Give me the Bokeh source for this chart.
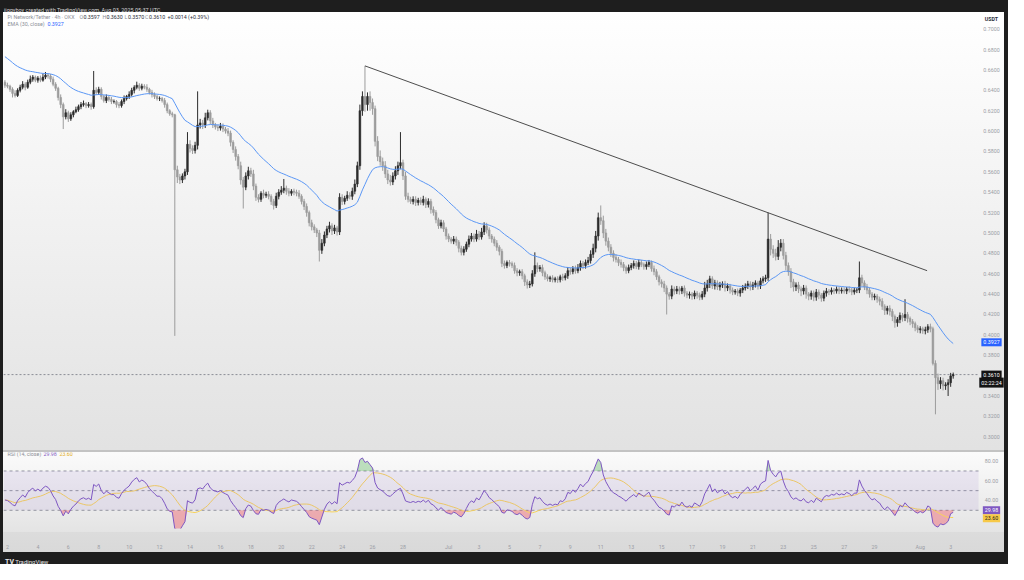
import numpy as np
from bokeh.plotting import figure
from bokeh.layouts import column
from bokeh.models import ColumnDataSource, Label, Div, FixedTicker, Range1d, BoxAnnotation
from bokeh.core.properties import value
from bokeh.embed import file_html
from bokeh.resources import INLINE

FONT = "Roboto"

# ---------------- data (PI/USDT, 4h candles, OKX) ----------------
# time in days since 2025-06-01 00:00 UTC; first candle Jun 1 20:00
first_time = 20 / 24
candle_days = 1 / 6
first_open = 0.648

close_rows = [
    [0.645],                                          # Jun 1 (20:00)
    [0.644, 0.641, 0.637, 0.635, 0.640, 0.643],       # Jun 2
    [0.646, 0.643, 0.648, 0.651, 0.653, 0.650],       # Jun 3
    [0.652, 0.650, 0.653, 0.655, 0.654, 0.651],       # Jun 4
    [0.646, 0.642, 0.633, 0.626, 0.614, 0.618],       # Jun 5
    [0.612, 0.616, 0.619, 0.621, 0.624, 0.626],       # Jun 6
    [0.627, 0.625, 0.626, 0.624, 0.640, 0.638],       # Jun 7
    [0.641, 0.634, 0.630, 0.633, 0.631, 0.629],       # Jun 8
    [0.629, 0.626, 0.625, 0.629, 0.632, 0.634],       # Jun 9
    [0.636, 0.640, 0.643, 0.645, 0.642, 0.644],       # Jun 10
    [0.643, 0.641, 0.638, 0.636, 0.634, 0.632],       # Jun 11
    [0.632, 0.630, 0.626, 0.620, 0.617, 0.616],       # Jun 12
    [0.562, 0.555, 0.552, 0.556, 0.560, 0.587],       # Jun 13
    [0.583, 0.581, 0.586, 0.606, 0.608, 0.606],       # Jun 14
    [0.613, 0.618, 0.610, 0.606, 0.604, 0.603],       # Jun 15
    [0.605, 0.602, 0.600, 0.598, 0.589, 0.582],       # Jun 16
    [0.575, 0.566, 0.552, 0.545, 0.556, 0.561],       # Jun 17
    [0.558, 0.546, 0.535, 0.533, 0.539, 0.537],       # Jun 18
    [0.538, 0.536, 0.531, 0.527, 0.536, 0.540],       # Jun 19
    [0.542, 0.544, 0.541, 0.539, 0.541, 0.540],       # Jun 20
    [0.539, 0.536, 0.531, 0.526, 0.520, 0.510],       # Jun 21
    [0.506, 0.503, 0.500, 0.483, 0.490, 0.498],       # Jun 22
    [0.504, 0.507, 0.502, 0.505, 0.501, 0.535],       # Jun 23
    [0.531, 0.534, 0.537, 0.536, 0.541, 0.548],       # Jun 24
    [0.566, 0.620, 0.634, 0.626, 0.634, 0.628],       # Jun 25
    [0.622, 0.590, 0.575, 0.570, 0.566, 0.558],       # Jun 26
    [0.552, 0.550, 0.556, 0.561, 0.566, 0.569],       # Jun 27
    [0.556, 0.536, 0.533, 0.531, 0.533, 0.530],       # Jun 28
    [0.532, 0.530, 0.533, 0.528, 0.531, 0.523],       # Jun 29
    [0.520, 0.513, 0.507, 0.510, 0.504, 0.497],       # Jun 30
    [0.494, 0.492, 0.494, 0.491, 0.485, 0.481],       # Jul 1
    [0.484, 0.489, 0.494, 0.497, 0.494, 0.499],       # Jul 2
    [0.496, 0.501, 0.507, 0.503, 0.497, 0.494],       # Jul 3
    [0.490, 0.486, 0.482, 0.470, 0.468, 0.471],       # Jul 4
    [0.470, 0.468, 0.463, 0.461, 0.462, 0.458],       # Jul 5
    [0.452, 0.449, 0.450, 0.460, 0.468, 0.465],       # Jul 6
    [0.466, 0.461, 0.457, 0.455, 0.456, 0.454],       # Jul 7
    [0.455, 0.454, 0.457, 0.456, 0.458, 0.463],       # Jul 8
    [0.462, 0.465, 0.463, 0.466, 0.470, 0.468],       # Jul 9
    [0.471, 0.473, 0.479, 0.485, 0.497, 0.515],       # Jul 10
    [0.512, 0.500, 0.492, 0.486, 0.480, 0.476],       # Jul 11
    [0.474, 0.471, 0.469, 0.466, 0.463, 0.466],       # Jul 12
    [0.468, 0.470, 0.467, 0.471, 0.469, 0.467],       # Jul 13
    [0.469, 0.471, 0.465, 0.462, 0.457, 0.452],       # Jul 14
    [0.450, 0.446, 0.440, 0.438, 0.445, 0.443],       # Jul 15
    [0.445, 0.443, 0.446, 0.441, 0.439, 0.440],       # Jul 16
    [0.438, 0.441, 0.439, 0.437, 0.440, 0.446],       # Jul 17
    [0.450, 0.455, 0.448, 0.451, 0.447, 0.449],       # Jul 18
    [0.450, 0.446, 0.448, 0.444, 0.442, 0.443],       # Jul 19
    [0.441, 0.444, 0.446, 0.448, 0.450, 0.447],       # Jul 20
    [0.449, 0.451, 0.448, 0.453, 0.455, 0.456],       # Jul 21
    [0.494, 0.484, 0.480, 0.477, 0.486, 0.490],       # Jul 22
    [0.478, 0.468, 0.462, 0.452, 0.447, 0.449],       # Jul 23
    [0.445, 0.443, 0.446, 0.440, 0.438, 0.441],       # Jul 24
    [0.437, 0.442, 0.439, 0.436, 0.441, 0.443],       # Jul 25
    [0.442, 0.444, 0.443, 0.445, 0.443, 0.444],       # Jul 26
    [0.443, 0.445, 0.444, 0.442, 0.444, 0.444],       # Jul 27
    [0.456, 0.451, 0.447, 0.444, 0.440, 0.437],       # Jul 28
    [0.438, 0.435, 0.433, 0.428, 0.424, 0.426],       # Jul 29
    [0.423, 0.418, 0.412, 0.415, 0.419, 0.417],       # Jul 30
    [0.420, 0.416, 0.413, 0.411, 0.407, 0.405],       # Jul 31
    [0.406, 0.404, 0.405, 0.408, 0.406, 0.372],       # Aug 1
    [0.358, 0.352, 0.355, 0.350, 0.351, 0.353],       # Aug 2
    [0.3597, 0.3610],                                 # Aug 3
]

# wick lengths beyond the body, in units of 0.0001
upper_wick_rows = [
    [20],
    [25, 15, 20, 30, 20, 25], [30, 20, 25, 35, 20, 15], [20, 25, 35, 30, 15, 20],
    [25, 20, 15, 30, 20, 35], [20, 25, 15, 30, 20, 25], [30, 15, 25, 20, 190, 30],
    [25, 20, 15, 30, 20, 25], [20, 15, 25, 20, 30, 15], [30, 25, 20, 35, 20, 25],
    [20, 30, 15, 25, 20, 15], [20, 15, 25, 20, 15, 20], [10, 40, 30, 25, 30, 120],
    [40, 30, 35, 330, 40, 30], [50, 30, 25, 30, 20, 25], [30, 25, 20, 30, 25, 20],
    [30, 25, 40, 30, 35, 40], [30, 40, 25, 30, 20, 35], [25, 30, 20, 25, 35, 30],
    [40, 90, 25, 30, 20, 25], [25, 30, 20, 25, 30, 20], [30, 25, 20, 30, 40, 35],
    [30, 40, 25, 30, 20, 40], [30, 25, 40, 30, 35, 45], [40, 60, 50, 300, 40, 50],
    [40, 30, 50, 60, 40, 45], [40, 50, 35, 45, 40, 300], [30, 40, 35, 25, 30, 30],
    [25, 30, 35, 20, 30, 25], [30, 25, 20, 30, 25, 20],
    [25, 20, 30, 25, 20, 25], [30, 25, 35, 30, 25, 40], [30, 40, 35, 30, 25, 20],
    [25, 30, 20, 25, 30, 20], [25, 20, 30, 25, 20, 25], [20, 25, 30, 35, 130, 30],
    [25, 30, 20, 25, 20, 25], [20, 25, 20, 30, 25, 35], [30, 25, 30, 35, 30, 25],
    [30, 35, 40, 45, 50, 50], [120, 50, 40, 35, 30, 30], [30, 25, 30, 25, 20, 30],
    [25, 30, 25, 30, 25, 20], [30, 25, 20, 30, 25, 20], [25, 30, 25, 20, 35, 25],
    [30, 25, 20, 25, 20, 25], [20, 25, 20, 25, 30, 60], [40, 30, 25, 30, 25, 30],
    [25, 30, 25, 20, 25, 20], [25, 20, 30, 25, 30, 25], [30, 25, 20, 30, 25, 30],
    [260, 50, 40, 45, 70, 40], [40, 35, 30, 35, 30, 25], [30, 25, 30, 25, 20, 25],
    [25, 30, 25, 20, 25, 30], [20, 25, 20, 25, 20, 25], [25, 20, 25, 20, 25, 20],
    [160, 30, 25, 30, 25, 20], [25, 20, 25, 30, 20, 25], [30, 25, 20, 25, 30, 25],
    [150, 25, 20, 25, 20, 25],
    [25, 20, 30, 25, 30, 20], [30, 40, 35, 30, 25, 35],
    [30, 20],
]
lower_wick_rows = [
    [25],
    [20, 25, 40, 20, 15, 20], [20, 30, 15, 20, 25, 20], [25, 20, 15, 20, 25, 30],
    [20, 25, 30, 35, 120, 25], [30, 20, 25, 15, 20, 25], [20, 25, 20, 30, 20, 25],
    [25, 30, 20, 25, 20, 25], [20, 30, 25, 20, 25, 20], [25, 20, 30, 20, 25, 20],
    [20, 25, 20, 30, 25, 20], [25, 20, 30, 25, 20, 25], [1630, 60, 40, 30, 35, 30],
    [40, 35, 30, 40, 35, 40], [30, 25, 35, 30, 25, 30], [25, 30, 25, 30, 40, 35],
    [40, 35, 45, 210, 30, 35], [30, 40, 35, 30, 25, 30], [25, 30, 35, 40, 25, 30],
    [25, 30, 35, 30, 25, 30], [30, 25, 30, 35, 40, 35], [35, 30, 40, 110, 35, 30],
    [30, 35, 40, 30, 35, 30], [35, 30, 25, 30, 35, 30], [30, 40, 50, 70, 60, 80],
    [60, 50, 45, 40, 50, 40], [40, 35, 30, 35, 40, 35], [40, 35, 30, 25, 30, 35],
    [30, 25, 30, 35, 30, 40], [30, 35, 30, 25, 30, 35],
    [30, 25, 30, 35, 40, 30], [30, 25, 30, 25, 30, 25], [30, 25, 30, 35, 30, 35],
    [30, 35, 40, 35, 30, 25], [30, 25, 30, 35, 30, 35], [40, 35, 30, 25, 30, 35],
    [30, 35, 30, 25, 30, 25], [25, 30, 25, 30, 25, 30], [30, 25, 30, 25, 30, 35],
    [30, 25, 30, 35, 40, 45], [40, 50, 45, 40, 35, 40], [30, 35, 30, 35, 30, 25],
    [25, 30, 25, 30, 25, 30], [30, 25, 30, 35, 30, 35], [35, 40, 200, 35, 30, 35],
    [30, 35, 30, 35, 30, 35], [35, 30, 35, 30, 25, 30], [35, 40, 30, 35, 30, 35],
    [30, 35, 30, 35, 30, 25], [30, 35, 30, 25, 30, 35], [30, 25, 35, 30, 25, 30],
    [30, 60, 45, 40, 35, 40], [40, 45, 40, 60, 45, 40], [40, 50, 35, 45, 40, 35],
    [40, 35, 40, 35, 30, 35], [30, 25, 30, 25, 30, 25], [25, 30, 25, 30, 25, 30],
    [30, 35, 30, 40, 35, 30], [30, 35, 40, 35, 45, 40], [40, 45, 50, 40, 35, 40],
    [35, 40, 35, 40, 35, 30],
    [35, 30, 35, 30, 35, 20], [360, 60, 50, 45, 40, 110],
    [40, 27],
]

ema_period = 30
ema_seed = 0.675
rsi_period = 14
rsi_ma_period = 14
rsi_seed_gain = 0.0022
rsi_seed_loss = 0.0030

# trend line (drawn by the author): from the Jun 25 high to Aug 1
trend_t = [24.5, 61.45]
trend_p = [0.664, 0.463]

price_ticks = [0.30, 0.32, 0.34, 0.36, 0.38, 0.40, 0.42, 0.44, 0.46, 0.48, 0.50,
               0.52, 0.54, 0.56, 0.58, 0.60, 0.62, 0.64, 0.66, 0.68, 0.70]
rsi_ticks = [20, 40, 60, 80]
rsi_levels = [70, 50, 30]
time_ticks = [1, 3, 5, 7, 9, 11, 13, 15, 17, 19, 21, 23, 25, 27,
              30, 32, 34, 36, 38, 40, 42, 44, 46, 48, 50, 52, 54, 56, 58, 61, 63]
time_labels = ["2", "4", "6", "8", "10", "12", "14", "16", "18", "20", "22", "24", "26", "28",
               "Jul", "3", "5", "7", "9", "11", "13", "15", "17", "19", "21", "23", "25", "27", "29",
               "Aug", "3"]

last_price = 0.3610
ema_last = 0.3927
rsi_last = 29.98
rsi_ma_last = 23.60

# ---------------- derived series ----------------
closes = np.array([c for r in close_rows for c in r])
uw = np.array([w for r in upper_wick_rows for w in r]) / 10000.0
lw = np.array([w for r in lower_wick_rows for w in r]) / 10000.0
n = len(closes)
opens = np.concatenate([[first_open], closes[:-1]])
times = first_time + np.arange(n) * candle_days
tops = np.maximum(opens, closes)
bots = np.minimum(opens, closes)
highs = tops + uw
lows = bots - lw
UP, DOWN = "#2c2c2c", "#9c9c9c"
colors = [UP if c >= o else DOWN for o, c in zip(opens, closes)]

alpha = 2.0 / (ema_period + 1)
ema = []
e = ema_seed
for c in closes:
    e = e + alpha * (c - e)
    ema.append(e)

ag, al = rsi_seed_gain, rsi_seed_loss
rsi = []
for o, c in zip(opens, closes):
    ch = c - o
    ag = (ag * (rsi_period - 1) + max(ch, 0)) / rsi_period
    al = (al * (rsi_period - 1) + max(-ch, 0)) / rsi_period
    rsi.append(100 - 100 / (1 + ag / al))
rsi = np.array(rsi)
rsi_ma = np.array([rsi[max(0, i - rsi_ma_period + 1):i + 1].mean() for i in range(n)])

# ---------------- layout constants ----------------
FIG_W = 1001          # frame spans the chart area and the price-scale strip
PANE_W = 975          # chart area width (px); the rest is the price scale
MAIN_H = 438
RSI_H = 102
X0, X1 = 0.74, 64.83  # time span of the chart area
XE = X0 + (X1 - X0) * FIG_W / PANE_W


def t_at(px):
    return X0 + (XE - X0) * px / FIG_W


X_SCALE = t_at(PANE_W + 13)   # centre of the price scale strip
X_EDGE = t_at(PANE_W)

AX_COL = "#9a9da5"
LEG_GREY = "#8b8e96"
FS = "5.3px"


def lab(fig, x, y, text, color, size=FS, bg=None, align="left", yunits="screen", yoff=0, bold=False):
    l = Label(x=x, y=y, x_units="screen", y_units=yunits, text=text, text_color=color,
              text_font=FONT, text_font_size=size, text_align=align, text_baseline="middle",
              y_offset=yoff, text_font_style="bold" if bold else "normal")
    if bg is not None:
        l.background_fill_color = bg
        l.padding = 2
    fig.add_layout(l)
    return l


# ---------------- main pane ----------------
main = figure(width=FIG_W, height=MAIN_H, x_range=Range1d(X0, XE), y_range=Range1d(0.2865, 0.7164),
              x_axis_location=None, y_axis_location=None, toolbar_location=None,
              output_backend="svg", min_border_left=0, min_border_right=0,
              min_border_top=0, min_border_bottom=0, background_fill_color=None,
              border_fill_color=None, outline_line_color=None, margin=(0, 4, 0, 3),
              styles={"background-image": "linear-gradient(to bottom, #ffffff 0%, #e2e2e2 100%)"})
main.grid.visible = False

# price scale labels
main.text(x=[X_SCALE] * len(price_ticks), y=price_ticks, text=["%.4f" % p for p in price_ticks],
          text_font=value(FONT), text_font_size=FS, text_color=AX_COL,
          text_align="center", text_baseline="middle")

src = ColumnDataSource(dict(t=times, h=highs, l=lows, top=tops, bot=bots, color=colors))
main.line([X0, X_EDGE], [last_price, last_price], line_color="#8a8d95", line_dash="2 2", line_width=1)
main.segment(x0="t", y0="h", x1="t", y1="l", line_color="color", line_width=1, source=src)
main.vbar(x="t", width=candle_days * 0.68, top="top", bottom="bot", fill_color="color",
          line_color="color", line_width=0.6, source=src)
main.line(times, ema, line_color="#5b97f5", line_width=1)
main.line(trend_t, trend_p, line_color="#4d4d4d", line_width=1)

# legend texts
r1 = MAIN_H - 4.5
r2 = MAIN_H - 11.5
lab(main, 4, r1, "Pi Network/Tether · 4h · OKX", LEG_GREY)
for xl, letter, xv, val in [(76, "O", 80, "0.3597"), (99, "H", 103, "0.3630"),
                            (121, "L", 124.5, "0.3570"), (141.5, "C", 145.5, "0.3610")]:
    lab(main, xl, r1, letter, LEG_GREY)
    lab(main, xv, r1, val, "#2a2e39")
lab(main, 164, r1, "+0.0014 (+0.39%)", "#2a2e39")
lab(main, 4, r2, "EMA (30, close)", LEG_GREY)
lab(main, 44, r2, "0.3927", "#2962ff")

# price scale tags
lab(main, PANE_W + 13, MAIN_H - 6, "USDT", "#2a2e39", bold=True, align="center")
lab(main, PANE_W + 13, ema_last, "0.3927", "#ffffff", bg="#2962ff", yunits="data", align="center")
lab(main, PANE_W + 13, last_price, "0.3610", "#ffffff", bg="#131313", yunits="data", align="center")
lab(main, PANE_W + 13, last_price, "02:22:24", "#ffffff", bg="#131313", yunits="data",
    yoff=-8, align="center")

# ---------------- RSI pane ----------------
rf = figure(width=FIG_W, height=RSI_H, x_range=main.x_range, y_range=Range1d(11.5, 88.8),
            y_axis_location=None, x_axis_location="below", toolbar_location=None,
            output_backend="svg", min_border_left=0, min_border_right=0,
            min_border_top=2, min_border_bottom=20, background_fill_color=None,
            border_fill_color=None, outline_line_color=None, margin=(0, 4, 0, 3),
            styles={"background-image": "linear-gradient(to bottom, #c3c3c3 0px, #c3c3c3 2px, "
                                        "#fbfbfb 2px, #e4e4e4 82px, #dcdcdc 82px, #d9d9d9 100%)"})
rf.grid.visible = False
rf.add_layout(BoxAnnotation(left=X0, right=X_EDGE, bottom=30, top=70, fill_color="#7e57c2",
                            fill_alpha=0.1, line_color=None))
for lvl in rsi_levels:
    rf.line([X0, X_EDGE], [lvl, lvl], line_color="#9598a1", line_dash="3 3", line_width=1)
rf.varea(x=times, y1=70, y2=np.maximum(rsi, 70), fill_color="#4caf50", fill_alpha=0.35)
rf.varea(x=times, y1=np.minimum(rsi, 30), y2=30, fill_color="#f23645", fill_alpha=0.35)
rf.line(times, rsi_ma, line_color="#f7d35c", line_width=1)
rf.line(times, rsi, line_color="#7e57c2", line_width=1)

rf.text(x=[X_SCALE] * len(rsi_ticks), y=rsi_ticks, text=["%.2f" % v for v in rsi_ticks],
        text_font=value(FONT), text_font_size=FS, text_color=AX_COL,
        text_align="center", text_baseline="middle")

xa = rf.xaxis[0]
xa.ticker = FixedTicker(ticks=time_ticks)
xa.major_label_overrides = {float(k): v for k, v in zip(time_ticks, time_labels)}
xa.axis_line_color = None
xa.major_tick_line_color = None
xa.minor_tick_line_color = None
xa.major_label_text_font = FONT
xa.major_label_text_font_size = FS
xa.major_label_text_color = AX_COL
xa.major_label_standoff = 9

RF_FRAME = RSI_H - 2 - 20
lab(rf, 4, RF_FRAME - 5.5, "RSI (14, close)", LEG_GREY)
lab(rf, 40, RF_FRAME - 5.5, "29.98", "#7e57c2")
lab(rf, 56, RF_FRAME - 5.5, "23.60", "#e2ac17")
lab(rf, PANE_W + 13, rsi_last, "29.98", "#ffffff", bg="#7e57c2", yunits="data", align="center")
lab(rf, PANE_W + 13, rsi_last, "23.60", "#1e1e1e", bg="#f7c948", yunits="data", yoff=-8,
    align="center")

# ---------------- header / footer ----------------
header = Div(text='<div style="font-family:Roboto;font-size:5.5px;color:#d6d6d6;'
                  'line-height:12px;padding-left:4px;white-space:nowrap">'
                  'jiggyboy created with TradingView.com, Aug 03, 2025 05:37 UTC</div>',
             width=1008, height=12, margin=0)
footer = Div(text='<div style="font-family:Roboto;font-size:6px;color:#e6e6e6;'
                  'line-height:12px;padding-left:5px;white-space:nowrap">'
                  '<b style="font-size:7px">TV</b> TradingView</div>',
             width=1008, height=12, margin=0)

page = column(header, main, rf, footer, spacing=0,
              styles={"background-color": "#1e1e1e"})

open("out.html", "w").write(file_html(page, INLINE))
